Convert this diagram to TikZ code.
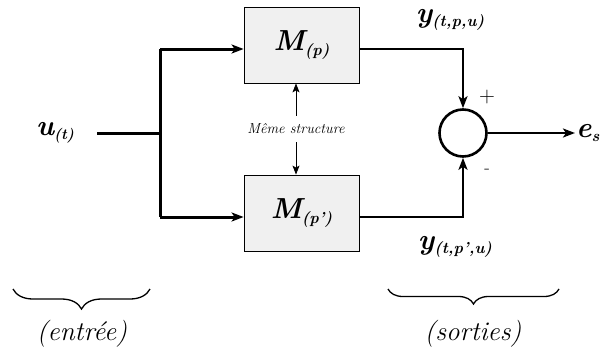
\documentclass[tikz,border=0pt]{standalone}
\usepackage{fontspec}
\usetikzlibrary{arrows.meta,decorations.pathreplacing}
\newcommand\mysub[2]{\raisebox{-0.35ex}{\fontsize{#1}{#1}\selectfont #2}}
\begin{document}
\begin{tikzpicture}[x=1pt,y=-1pt,
  blk/.style={draw=black, line width=0.8pt, fill=black!6, minimum width=115pt, minimum height=76pt, inner sep=0pt, font=\fontsize{29}{31}\selectfont\bfseries\itshape},
  lbl/.style={inner sep=1pt, font=\fontsize{29}{31}\selectfont\bfseries\itshape},
  thickline/.style={line width=3pt},
  outline/.style={line width=2.4pt},
  arr/.style={-{Stealth[length=12pt,width=9pt,inset=3pt]}},
  smarr/.style={line width=0.9pt,-{Stealth[length=9pt,width=7pt,inset=2pt]}},
  brc/.style={decorate, line width=1.3pt},
  captxt/.style={inner sep=1pt, font=\fontsize{27}{29}\selectfont\itshape}
]
\useasboundingbox (0,0) rectangle (611,351);

\node[blk] (m1) at (301.5,45) {M\mysub{16}{(p)}};
\node[blk] (m2) at (301.5,213) {M\mysub{16}{(p')}};
\node[draw, circle, line width=2.6pt, minimum size=47pt, inner sep=0pt] (sum) at (463,133) {};

\node[lbl] (u) at (55,133) {u\mysub{15}{(t)}};
\node[lbl] (y1) at (450,20) {y\mysub{16}{(t,p,u)}};
\node[lbl] (y2) at (455,247) {y\mysub{16}{(t,p',u)}};
\node[lbl, anchor=west] (es) at (575,133) {e\mysub{16}{s}};

\node[inner xsep=1pt, inner ysep=8pt, font=\fontsize{14.5}{15}\selectfont\itshape] (ms) at (296,129) {Même structure};

\node[font=\fontsize{22}{22}\selectfont] (plus) at (487,97) {+};
\node[font=\fontsize{18}{18}\selectfont] (minus) at (487,171) {-};

\coordinate (us) at (97,133);
\coordinate (sp) at (160,133);
\coordinate (t1) at (160,49);
\coordinate (b1) at (160,217);

\draw[thickline] (us) -- (sp);
\draw[thickline, line join=round] (t1) -- (b1);
\draw[thickline, arr] (t1) -- (t1 -| m1.west);
\draw[thickline, arr] (b1) -- (b1 -| m2.west);

\draw[outline, arr] (m1.east |- t1) -| (sum.north);
\draw[outline, arr] (m2.east |- b1) -| (sum.south);
\draw[outline, arr] (sum.east) -- (es.west);

\draw[smarr] (ms.north) -- (ms.north |- m1.south);
\draw[smarr] (ms.south) -- (ms.south |- m2.north);

\coordinate (la) at (13,289);
\coordinate (lb) at (150,289);
\coordinate (ra) at (388,289);
\coordinate (rb) at (559,289);
\draw[brc, decoration={brace, mirror, amplitude=20pt}] (la) -- (lb);
\draw[brc, decoration={brace, mirror, amplitude=15pt}] (ra) -- (rb);

\node[captxt] (entree) at (82,334) {(entrée)};
\node[captxt] (sorties) at (473,334) {(sorties)};
\end{tikzpicture}
\end{document}
